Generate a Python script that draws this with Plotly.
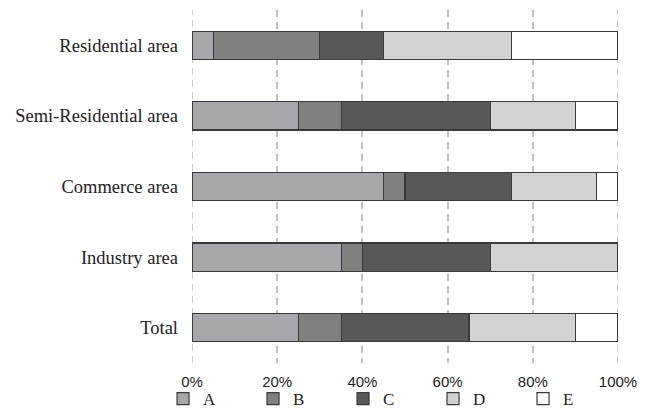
import plotly.graph_objects as go

categories = ["Residential area", "Semi-Residential area", "Commerce area", "Industry area", "Total"]
series_names = ["A", "B", "C", "D", "E"]
A = [5, 25, 45, 35, 25]
B = [25, 10, 5, 5, 10]
C = [15, 35, 25, 30, 30]
D = [30, 20, 20, 30, 25]
E = [25, 10, 5, 0, 10]
values = [A, B, C, D, E]
colors = ["#a6a7aa", "#808081", "#58585a", "#d1d2d3", "#ffffff"]
tick_vals = [0, 20, 40, 60, 80, 100]
tick_text = ["0%", "20%", "40%", "60%", "80%", "100%"]

fig = go.Figure()
for name, vals, col in zip(series_names, values, colors):
    fig.add_trace(go.Bar(
        y=categories, x=vals, name=name, orientation="h",
        marker=dict(color=col, line=dict(color="#3a3a3a", width=1.2)),
    ))

grid_color = "#c2c2c2"
grid_dash = "7px,5px"
# dashed gridlines at the range edges (plotly hides edge gridlines)
for v in (tick_vals[0], tick_vals[-1]):
    fig.add_shape(type="line", xref="x", yref="paper", x0=v, x1=v, y0=0, y1=1,
                  line=dict(color=grid_color, width=1.6, dash=grid_dash), layer="below")

fig.update_layout(
    barmode="stack",
    bargap=0.6,
    width=640, height=401,
    margin=dict(l=184, r=30, t=2, b=46, autoexpand=False),
    plot_bgcolor="white", paper_bgcolor="white",
    showlegend=True,
    legend=dict(
        orientation="h", x=-0.068, xanchor="left", y=-0.102, yanchor="middle",
        font=dict(family="Liberation Serif", size=17, color="#222"),
        entrywidth=45, entrywidthmode="pixels",
        itemwidth=30, traceorder="normal",
        bgcolor="rgba(0,0,0,0)",
    ),
    xaxis=dict(
        range=[0, 100], tickvals=tick_vals, ticktext=tick_text,
        showgrid=True, gridcolor=grid_color, griddash=grid_dash, gridwidth=1.6,
        zeroline=False, showline=False, automargin=False,
        tickfont=dict(family="Liberation Sans", size=15, color="#222"),
        ticks="", ticklabelstandoff=8,
    ),
    yaxis=dict(
        categoryorder="array", categoryarray=categories, autorange="reversed",
        showgrid=False, zeroline=False, showline=False, automargin=False,
        tickfont=dict(family="Liberation Serif", size=18.5, color="#222"),
        ticks="", ticklabelstandoff=13,
    ),
)

fig.write_html("out.html")
